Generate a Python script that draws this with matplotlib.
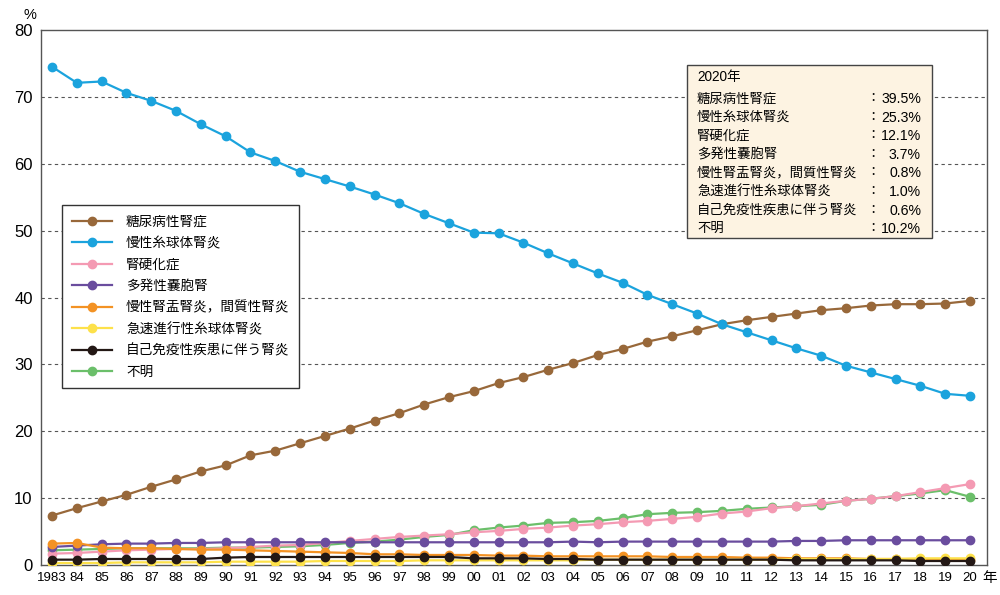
import numpy as np
import matplotlib.pyplot as plt
from matplotlib.patches import Rectangle

plt.rcParams['font.family'] = ['Liberation Sans', 'Noto Sans CJK JP', 'DejaVu Sans']

years = list(range(1983, 2021))
year_labels = ['1983'] + [f"{y % 100:02d}" for y in years[1:]]

names = ['糖尿病性腎症', '慢性糸球体腎炎', '腎硬化症', '多発性嚢胞腎',
         '慢性腎盂腎炎，間質性腎炎', '急速進行性糸球体腎炎',
         '自己免疫性疾患に伴う腎炎', '不明']

diabetic = [7.4, 8.5, 9.5, 10.5, 11.7, 12.8, 14.0, 14.9, 16.4, 17.1, 18.2, 19.3, 20.4,
            21.6, 22.7, 24.0, 25.1, 26.0, 27.2, 28.1, 29.2, 30.2, 31.4, 32.3, 33.4,
            34.2, 35.1, 36.0, 36.6, 37.1, 37.6, 38.1, 38.4, 38.8, 39.0, 39.0, 39.1, 39.5]
glomerulo = [74.5, 72.1, 72.3, 70.6, 69.4, 67.9, 65.9, 64.1, 61.7, 60.4, 58.8, 57.7, 56.6,
             55.4, 54.1, 52.5, 51.1, 49.7, 49.6, 48.2, 46.6, 45.1, 43.6, 42.2, 40.4,
             39.0, 37.6, 36.0, 34.8, 33.6, 32.4, 31.3, 29.8, 28.8, 27.8, 26.8, 25.6, 25.3]
sclerosis = [1.7, 1.8, 2.0, 2.2, 2.3, 2.4, 2.4, 2.5, 2.7, 2.9, 3.0, 3.3, 3.6,
             3.9, 4.2, 4.4, 4.6, 4.9, 5.1, 5.4, 5.6, 5.9, 6.1, 6.4, 6.6,
             6.9, 7.2, 7.7, 8.0, 8.5, 8.8, 9.2, 9.6, 9.9, 10.3, 10.9, 11.5, 12.1]
polycystic = [2.7, 2.9, 3.1, 3.2, 3.2, 3.3, 3.3, 3.4, 3.4, 3.4, 3.4, 3.4, 3.4,
              3.4, 3.4, 3.4, 3.4, 3.4, 3.4, 3.4, 3.4, 3.5, 3.4, 3.5, 3.5,
              3.5, 3.5, 3.5, 3.5, 3.5, 3.6, 3.6, 3.7, 3.7, 3.7, 3.7, 3.7, 3.7]
pyelo = [3.2, 3.3, 2.6, 2.5, 2.5, 2.4, 2.3, 2.3, 2.2, 2.1, 2.0, 1.9, 1.8,
         1.6, 1.6, 1.5, 1.5, 1.5, 1.4, 1.4, 1.3, 1.3, 1.3, 1.3, 1.3,
         1.2, 1.2, 1.2, 1.1, 1.1, 1.0, 1.0, 1.0, 0.9, 0.9, 0.9, 0.8, 0.8]
rpgn = [0.3, 0.3, 0.3, 0.4, 0.4, 0.4, 0.4, 0.5, 0.5, 0.5, 0.5, 0.6, 0.6,
        0.6, 0.6, 0.7, 0.7, 0.7, 0.7, 0.7, 0.7, 0.7, 0.8, 0.8, 0.8,
        0.8, 0.8, 0.8, 0.8, 0.8, 0.9, 0.9, 0.9, 0.9, 0.9, 1.0, 1.0, 1.0]
autoimmune = [0.8, 0.8, 0.9, 0.9, 0.9, 0.9, 0.9, 1.1, 1.2, 1.2, 1.2, 1.2, 1.2,
              1.2, 1.2, 1.2, 1.2, 1.0, 1.0, 1.0, 0.9, 0.9, 0.8, 0.8, 0.8,
              0.8, 0.8, 0.8, 0.8, 0.8, 0.7, 0.7, 0.7, 0.7, 0.7, 0.6, 0.6, 0.6]
unknown = [2.2, 2.3, 2.4, 2.5, 2.5, 2.5, 2.5, 2.6, 2.6, 2.7, 2.8, 3.0, 3.3,
           3.5, 3.8, 4.2, 4.5, 5.2, 5.6, 5.9, 6.3, 6.4, 6.6, 7.0, 7.6,
           7.8, 7.9, 8.1, 8.4, 8.6, 8.8, 9.0, 9.6, 9.9, 10.3, 10.7, 11.2, 10.2]

series = [diabetic, glomerulo, sclerosis, polycystic, pyelo, rpgn, autoimmune, unknown]
colors = ['#98683a', '#1ba3dd', '#f49ab3', '#6a4d9e', '#f39224', '#fde14a', '#231815', '#6bbf6a']

box_names = names
box_values = ['39.5%', '25.3%', '12.1%', '3.7%', '0.8%', '1.0%', '0.6%', '10.2%']

fig = plt.figure(figsize=(10, 5.95), dpi=100)
ax = fig.add_axes([0.041, 0.0504, 0.946, 0.8992])

# draw order: back to front
order = [7, 2, 0, 1, 3, 4, 5, 6]
handles = {}
for i in order:
    h, = ax.plot(years, series[i], color=colors[i], lw=1.6, marker='o', ms=6,
                 label=names[i], zorder=3 + order.index(i) * 0.1)
    handles[i] = h

ax.set_xlim(1982.556, 2020.685)
ax.set_ylim(0, 80)
ax.set_yticks(range(0, 81, 10))
ax.set_xticks(years)
ax.set_xticklabels(year_labels)
ax.tick_params(axis='x', length=0, labelsize=9.5, pad=5)
ax.tick_params(axis='y', length=0, labelsize=12, pad=6)
for y in range(10, 80, 10):
    ax.axhline(y, color='#555555', lw=0.8, ls=(0, (3, 3)), zorder=1)
for s in ax.spines.values():
    s.set_color('#555555')
    s.set_linewidth(1.0)

fig.text(0.030, 0.975, '%', fontsize=10.5, ha='center', va='center')
fig.text(0.990, 0.028, '年', fontsize=10.5, ha='center', va='center')

leg = ax.legend([handles[i] for i in range(8)], names,
                loc='upper left', bbox_to_anchor=(62 / 1000, 1 - 205 / 595),
                bbox_transform=fig.transFigure, fontsize=9.8, frameon=True,
                fancybox=False, edgecolor='#333333', framealpha=1,
                handlelength=3.0, labelspacing=0.55, borderpad=0.7,
                handletextpad=1.0, borderaxespad=0)
leg.get_frame().set_linewidth(1.0)

# summary box
fig.patches.append(Rectangle((687 / 1000, 1 - 238 / 595), 245 / 1000, 173 / 595,
                             transform=fig.transFigure, facecolor='#fdf3e2',
                             edgecolor='#444444', lw=1.0, zorder=5))
fig.text(697 / 1000, 1 - 77 / 595, '2020年', fontsize=9.8, va='center', zorder=6)
for k in range(8):
    yy = 1 - (99 + k * 18.6) / 595
    fig.text(697 / 1000, yy, box_names[k], fontsize=9.6, va='center', zorder=6)
    fig.text(866 / 1000, yy, '：', fontsize=9.6, va='center', ha='left', zorder=6)
    fig.text(921 / 1000, yy, box_values[k], fontsize=10.2, va='center', ha='right', zorder=6)

fig.savefig('out.png', dpi=100)
